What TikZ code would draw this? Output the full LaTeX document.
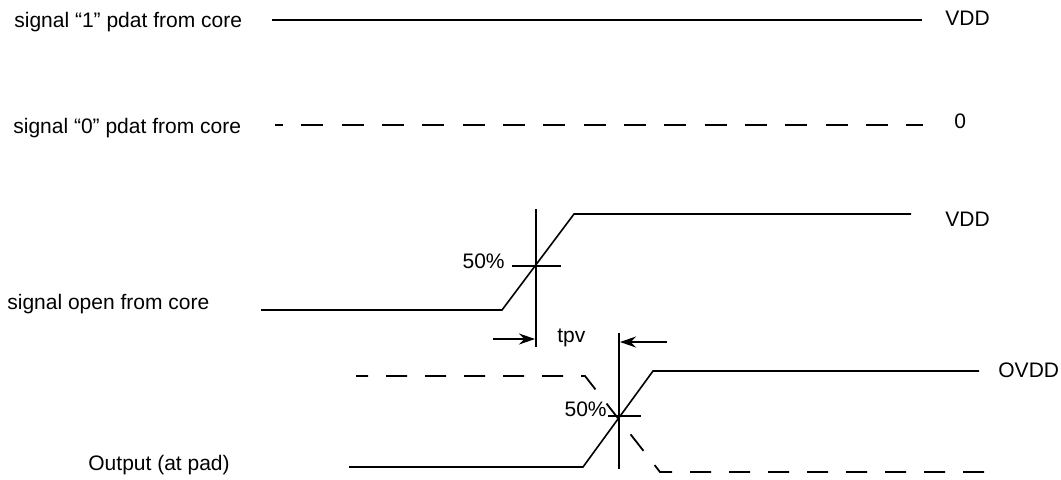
\documentclass[tikz,border=0pt]{standalone}
\usepackage{fontspec}
\setmainfont{Liberation Sans}
\usetikzlibrary{
    arrows.meta,
    positioning,
    calc
}

\tikzset{
    wave/.style={line width=0.8pt},
    wavedash/.style={line width=0.9pt, dash pattern=on 10.5pt off 9pt},
    marker/.style={line width=1pt},
    lbl/.style={inner sep=0pt, font=\fontsize{10.5}{12}\selectfont},
    tpvarrow/.style={-{Stealth[length=8pt,width=5.5pt]}, line width=0.8pt}
}

\begin{document}
\begin{tikzpicture}[x=0.5pt,y=-0.5pt]
                \useasboundingbox (0,0) rectangle (1061,479);
                % signal names on the left
                \node[lbl, anchor=base west] (one) at (14,27) {signal “1” pdat from core};
                \node[lbl, anchor=base west] (zero) at (13,133) {signal “0” pdat from core};
                \node[lbl, anchor=base west] (open) at (7,309) {signal open from core};
                \node[lbl, anchor=base west] (pad) at (88,470) {Output (at pad)};
                % levels on the right
                \node[lbl, anchor=base west] (vddA) at (945,25) {VDD};
                \node[lbl, anchor=base west] (gnd) at (954,128) {0};
                \node[lbl, anchor=base west] (vddB) at (945,226) {VDD};
                \node[lbl, anchor=base west] (ovdd) at (998,377) {OVDD};
                % static signals
                \draw[wave, line width=1pt] (272,20) -- (922,20);
                \draw[wavedash, dash pattern=on 11pt off 9.17pt, dash phase=7pt] (275,125) -- (923,125);
                % open signal and its 50% mark
                \draw[wave] (261,310) -- (502,310) -- (574,214) -- (911,214);
                \coordinate (openTop) at (536,209);
                \coordinate (openBot) at (536,347);
                \draw[marker] (openTop) -- (openBot);
                \draw[marker] (512,266) -- (561,266);
                \node[lbl, anchor=base east] (halfA) at (505,268) {50\%};
                % output at pad and its 50% mark
                \draw[wave] (349,467) -- (583,467) -- (653,371) -- (979,371);
                \draw[wavedash, dash phase=4.5pt] (356,376) -- (585,376) -- (660,472) -- (987,472);
                \coordinate (padTop) at (619,333);
                \coordinate (padBot) at (619,469);
                \draw[marker] (padTop) -- (padBot);
                \draw[marker] (608,416) -- (641,416);
                \node[lbl, anchor=base east] (halfB) at (607,416) {50\%};
                % tpv
                \coordinate (tpvL) at (535,339);
                \coordinate (tpvR) at (620,342);
                \draw[tpvarrow] (493,339) -- (tpvL);
                \draw[tpvarrow] (667,342) -- (tpvR);
                \node[lbl, anchor=base west] (tpv) at (557,342) {tpv};
\end{tikzpicture}
\end{document}
